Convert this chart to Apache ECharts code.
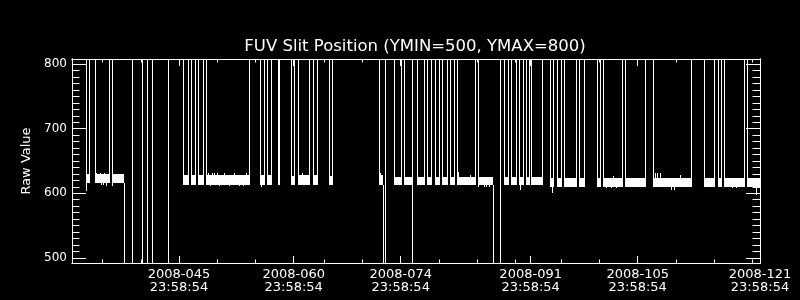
<!DOCTYPE html>
<html>
<head>
<meta charset="utf-8">
<script src="https://cdn.jsdelivr.net/npm/echarts@6/dist/echarts.min.js"></script>
<style>
html,body{margin:0;padding:0;background:#000;}
#chart{width:800px;height:300px;}
</style>
</head>
<body>
<div id="chart"></div>
<script>
// ---------- text ----------
const titleText = 'FUV Slit Position (YMIN=500, YMAX=800)';
const yAxisTitle = 'Raw Value';

// ---------- axes (x = day of year 2008, referenced to 23:58:54) ----------
const xMin = 31, xMax = 121;
const yMin = 492, yMax = 808;
const xMajorTicks = [45, 60, 74, 91, 105, 121];
const xMajorLabels = ['2008-045\n23:58:54', '2008-060\n23:58:54', '2008-074\n23:58:54',
                      '2008-091\n23:58:54', '2008-105\n23:58:54', '2008-121\n23:58:54'];
const xMinorTicks = [35, 40, 50, 55, 64, 69, 79, 84, 89, 95, 100, 110, 115, 120];
const yMajorTicks = [500, 600, 700, 800];
const yMinorTicks = [510, 520, 530, 540, 550, 560, 570, 580, 590,
                     610, 620, 630, 640, 650, 660, 670, 680, 690,
                     710, 720, 730, 740, 750, 760, 770, 780, 790];

// ---------- plateau segments (dense noisy slit position readings) ----------
const bandStart = [32.79, 33.97, 36.19,
  45.52, 46.57, 47.48, 48.49, 55.59, 56.47, 58.00, 59.65, 60.57, 62.53, 64.62, 71.16,
  73.18, 74.43, 76.09, 77.40, 78.49, 79.40, 80.41, 81.37, 84.11, 87.52, 88.48, 89.44, 90.39, 91.07,
  93.56, 94.45, 95.36, 97.33, 99.71, 100.47, 103.34, 107.01, 113.68, 115.51, 116.30, 119.27];
const bandEnd = [33.18, 35.84, 37.80,
  46.14, 47.09, 48.14, 54.16, 56.08, 57.03, 58.13, 60.04, 62.01, 63.10, 65.07, 71.69,
  74.04, 75.48, 77.05, 78.02, 79.06, 80.02, 80.97, 83.77, 86.08, 88.04, 89.05, 90.03, 90.79, 92.54,
  93.91, 94.93, 96.96, 97.98, 100.04, 102.95, 106.01, 112.03, 114.99, 115.93, 118.91, 121.00];
const bandLow = [616, 616, 616,
  613, 613, 613, 613, 613, 613, 613, 613, 613, 613, 613, 613,
  613, 613, 613, 613, 613, 613, 613, 613, 613, 613, 613, 613, 613, 613,
  610, 610, 610, 610, 610, 610, 610, 610, 610, 610, 610, 610];
const bandHigh = [630, 630, 630,
  628, 628, 628, 628, 628, 628, 628, 626, 628, 628, 627, 629,
  625, 625, 625, 625, 625, 625, 625, 625, 625, 625, 625, 625, 625, 625,
  624, 624, 624, 624, 624, 624, 624, 624, 624, 624, 624, 624];

// ---------- jumps (value goes off-scale high = 1000 or low = 0) ----------
const jumpDay = [32.79, 33.18, 33.97, 35.84, 36.19, 37.80, 38.85, 40.12, 40.81, 41.47, 43.56,
  45.52, 46.14, 46.57, 47.09, 47.48, 48.14, 48.49, 54.16, 55.59, 56.08,
  56.47, 57.03, 58.00, 58.13, 59.65, 60.04, 60.57, 62.01, 62.53, 63.10,
  64.62, 65.07, 71.16, 71.69, 71.95,
  73.18, 74.04, 74.43, 75.48, 76.09, 77.05, 77.40, 78.02, 78.49, 79.06,
  79.40, 80.02, 80.41, 80.97, 81.37, 83.77, 84.11, 86.08, 87.04, 87.52,
  88.04, 88.48, 89.05, 89.44, 90.03, 90.39, 90.79, 91.07, 92.54,
  93.56, 93.91, 94.45, 94.93, 95.36, 96.96, 97.33, 97.98, 99.71, 100.04,
  100.47, 102.95, 103.34, 106.01, 107.01, 112.03, 113.68, 114.99, 115.51, 115.93,
  116.30, 118.91, 119.27];
const jumpFrom = [603, 616, 616, 616, 616, 616, 0, 0, 0, 0, 0,
  613, 613, 613, 613, 613, 613, 613, 613, 613, 613,
  613, 613, 613, 613, 613, 613, 613, 613, 613, 613,
  613, 613, 613, 613, 0,
  613, 613, 613, 0, 613, 613, 613, 613, 613, 613,
  613, 613, 613, 613, 613, 613, 613, 613, 0, 613,
  613, 613, 613, 613, 613, 613, 613, 613, 613,
  610, 610, 610, 610, 610, 610, 610, 610, 610, 610,
  610, 610, 610, 610, 610, 610, 610, 610, 610, 610,
  610, 610, 610];
const jumpTo = [1000, 1000, 1000, 1000, 1000, 0, 1000, 1000, 1000, 1000, 1000,
  1000, 1000, 1000, 1000, 1000, 1000, 1000, 1000, 1000, 1000,
  1000, 1000, 1000, 1000, 1000, 1000, 1000, 1000, 1000, 1000,
  1000, 1000, 1000, 0, 1000,
  1000, 1000, 1000, 1000, 1000, 1000, 1000, 1000, 1000, 1000,
  1000, 1000, 1000, 1000, 1000, 1000, 1000, 0, 1000, 1000,
  1000, 1000, 1000, 1000, 1000, 1000, 1000, 1000, 1000,
  1000, 1000, 1000, 1000, 1000, 1000, 1000, 1000, 1000, 1000,
  1000, 1000, 1000, 1000, 1000, 1000, 1000, 1000, 1000, 1000,
  1000, 1000, 1000];

// ---------- small excursions from the plateau ----------
const noiseDay  = [34.19, 34.62, 34.76, 35.05, 35.19, 35.45, 36.28,
  48.75, 49.00, 49.31, 49.63, 49.97, 50.20, 50.85, 51.50, 52.22, 52.90, 53.40, 53.76, 55.72, 61.05, 71.25,
  81.42, 81.52, 83.00, 84.14, 84.90, 85.12, 85.55, 89.60,
  93.78, 100.90, 101.50, 101.80, 102.20, 107.20, 107.50, 107.90, 109.30, 109.80, 110.50, 117.40, 117.80, 120.53];
const noiseLow  = [620, 620, 613, 613, 620, 612, 612,
  620, 611, 620, 620, 620, 611, 620, 611, 620, 611, 611, 620, 609, 620, 620,
  620, 620, 620, 609, 609, 609, 609, 605,
  601, 608, 608, 620, 608, 620, 620, 620, 605, 605, 620, 608, 608, 597];
const noiseHigh = [631, 631, 620, 620, 631, 620, 620,
  632, 618, 632, 632, 632, 618, 632, 618, 632, 618, 618, 632, 618, 632, 631,
  633, 633, 628, 616, 616, 616, 616, 615,
  615, 614, 614, 627, 614, 631, 631, 631, 614, 614, 628, 614, 614, 614];

// ---------- build ----------
const bandData = bandStart.map((s, i) => [s, bandEnd[i], bandLow[i], bandHigh[i]]);
const jumpData = jumpDay.map((d, i) => [d, jumpFrom[i], jumpTo[i]]);
const noiseData = noiseDay.map((d, i) => [d, noiseLow[i], noiseHigh[i]]);

const FONT = 'DejaVu Sans';
const WHITE = '#ffffff';

function renderBand(params, api) {
  const p0 = api.coord([api.value(0), api.value(3)]);
  const p1 = api.coord([api.value(1), api.value(2)]);
  const x0 = Math.round(p0[0]);
  const x1 = Math.max(Math.round(p1[0]), x0 + 1);
  const y0 = Math.round(p0[1]);
  const y1 = Math.round(p1[1]);
  return { type: 'rect', shape: { x: x0, y: y0, width: x1 - x0, height: y1 - y0 },
           style: { fill: WHITE } };
}
function renderStroke(params, api) {
  const a = api.coord([api.value(0), api.value(1)]);
  const b = api.coord([api.value(0), api.value(2)]);
  const x = Math.round(a[0]) + 0.5;
  return { type: 'line', shape: { x1: x, y1: Math.round(a[1]), x2: x, y2: Math.round(b[1]) },
           style: { stroke: WHITE, lineWidth: 1 } };
}

function xAxisDef(position, ticks, len, showLabel) {
  return {
    type: 'value', min: xMin, max: xMax, position: position,
    splitLine: { show: false },
    axisLine: { show: true, onZero: false, lineStyle: { color: WHITE, width: 1 } },
    axisTick: { show: true, inside: true, length: len, customValues: ticks,
                lineStyle: { color: WHITE, width: 1 } },
    axisLabel: showLabel ? {
      show: true, customValues: xMajorTicks, color: WHITE, fontFamily: FONT,
      fontSize: 13, lineHeight: 13, margin: 5,
      formatter: function (v) { const k = xMajorTicks.indexOf(v); return k >= 0 ? xMajorLabels[k] : ''; }
    } : { show: false }
  };
}
function yAxisDef(position, ticks, len, showLabel) {
  return {
    type: 'value', min: yMin, max: yMax, position: position,
    splitLine: { show: false },
    axisLine: { show: true, onZero: false, lineStyle: { color: WHITE, width: 1 } },
    axisTick: { show: true, inside: true, length: len, customValues: ticks,
                lineStyle: { color: WHITE, width: 1 } },
    axisLabel: showLabel ? {
      show: true, customValues: yMajorTicks, color: WHITE, fontFamily: FONT,
      fontSize: 12, margin: 5
    } : { show: false }
  };
}

const chart = echarts.init(document.getElementById('chart'), null, { renderer: 'canvas' });
chart.setOption({
  backgroundColor: '#000000',
  animation: false,
  textStyle: { fontFamily: FONT },
  grid: { left: 72, top: 59, width: 688, height: 204, show: false },
  xAxis: [
    xAxisDef('bottom', xMajorTicks, 7, true),
    xAxisDef('bottom', xMinorTicks, 3.5, false),
    xAxisDef('top', xMajorTicks, 7, false),
    xAxisDef('top', xMinorTicks, 3.5, false)
  ],
  yAxis: [
    yAxisDef('left', yMajorTicks, 14, true),
    yAxisDef('left', yMinorTicks, 7.5, false),
    yAxisDef('right', yMajorTicks, 14, false),
    yAxisDef('right', yMinorTicks, 7.5, false)
  ],
  graphic: [
    { type: 'text', x: 415, y: 47, silent: true,
      style: { text: titleText, fill: WHITE, font: '16.5px "DejaVu Sans"',
               align: 'center', verticalAlign: 'middle', textAlign: 'center', textVerticalAlign: 'middle' } },
    { type: 'text', x: 27, y: 161, rotation: Math.PI / 2, silent: true,
      style: { text: yAxisTitle, fill: WHITE, font: '13px "DejaVu Sans"',
               align: 'center', verticalAlign: 'middle', textAlign: 'center', textVerticalAlign: 'middle' } }
  ],
  series: [
    { type: 'custom', name: 'plateau', xAxisIndex: 0, yAxisIndex: 0, clip: true,
      renderItem: renderBand, encode: { x: [0, 1], y: [2, 3] }, data: bandData },
    { type: 'custom', name: 'jumps', xAxisIndex: 0, yAxisIndex: 0, clip: true,
      renderItem: renderStroke, encode: { x: 0, y: [1, 2] }, data: jumpData },
    { type: 'custom', name: 'noise', xAxisIndex: 0, yAxisIndex: 0, clip: true,
      renderItem: renderStroke, encode: { x: 0, y: [1, 2] }, data: noiseData }
  ]
});
</script>
</body>
</html>
